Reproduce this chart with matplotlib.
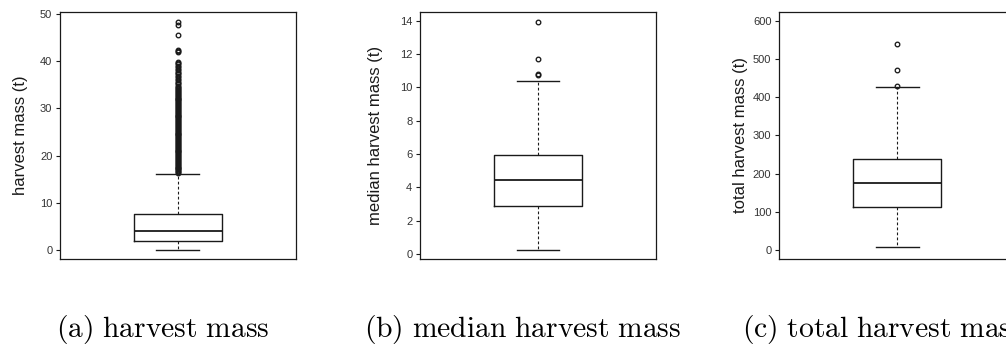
import matplotlib
matplotlib.use('Agg')
import matplotlib.pyplot as plt

plt.rcParams['font.family'] = ['Liberation Sans', 'DejaVu Sans']
plt.rcParams['mathtext.fontset'] = 'cm'

# box statistics per variable (tonnes)
mass_box = [1.9, 4.15, 7.6]          # q1, median, q3
mass_whiskers = [0.0, 16.2]
mass_fliers = [16.3, 16.5, 16.7, 16.9, 17.1, 17.3, 17.5, 17.7, 17.9, 18.1,
               18.3, 18.5, 18.7, 18.9, 19.1, 19.3, 19.5, 19.7, 19.9, 20.1,
               20.3, 20.5, 20.7, 20.9, 21.1, 21.3, 21.5, 21.7, 21.9, 22.1,
               22.3, 22.5, 22.7, 22.9, 23.1, 23.3, 23.5, 23.7, 23.9, 24.1,
               24.3, 24.5, 24.7, 24.9, 25.1, 25.3, 25.5, 25.7, 25.9, 26.1,
               26.3, 26.5, 26.7, 26.9, 27.1, 27.3, 27.5, 27.7, 27.9, 28.1,
               28.3, 28.5, 28.7, 28.9, 29.1, 29.3, 29.5, 29.7, 29.9, 30.1,
               30.3, 30.5, 30.7, 30.9, 31.1, 31.3, 31.5, 31.7, 31.9, 32.1,
               32.3, 32.5, 32.7, 32.9, 33.1, 33.3, 33.5, 33.7, 33.9, 34.1,
               34.3, 34.5, 34.8, 35.1, 35.4, 35.7, 36.0, 36.3, 36.6, 36.9,
               37.2, 37.5, 37.8, 38.1, 38.4, 38.7, 39.0, 39.3, 39.6, 39.9,
               42.0, 42.2, 42.4, 45.5, 47.6, 48.3]

median_box = [2.9, 4.44, 5.94]
median_whiskers = [0.22, 10.4]
median_fliers = [10.75, 10.8, 11.7, 13.9]

total_box = [113, 176, 239]
total_whiskers = [9.5, 428]
total_fliers = [430, 470, 540]

ylabels = ['harvest mass (t)', 'median harvest mass (t)', 'total harvest mass (t)']
captions = ['(a) harvest mass', '(b) median harvest mass', '(c) total harvest mass']
yticks = [range(0, 51, 10), range(0, 15, 2), range(0, 601, 100)]
ylims = [(-1.84, 50.4), (-0.3, 14.52), (-22.7, 622.7)]

panels = [(mass_box, mass_whiskers, mass_fliers),
          (median_box, median_whiskers, median_fliers),
          (total_box, total_whiskers, total_fliers)]

axes_left = [0.0596, 0.4175, 0.7744]
label_x = [-0.136, -0.157, -0.131]
caption_x = [56, 364, 742]

fig = plt.figure(figsize=(10.06, 3.45), dpi=100)

line_col = '#1a1a1a'
for i, (box, whis, fliers) in enumerate(panels):
    ax = fig.add_axes([axes_left[i], 0.2493, 0.2346, 0.7159])
    stats = [dict(q1=box[0], med=box[1], q3=box[2],
                  whislo=whis[0], whishi=whis[1], fliers=fliers)]
    ax.bxp(stats, positions=[1], widths=0.373, capwidths=0.182,
           boxprops=dict(color=line_col, linewidth=1.0),
           whiskerprops=dict(color=line_col, linewidth=0.8, linestyle=(0, (2.5, 2))),
           capprops=dict(color=line_col, linewidth=1.0),
           medianprops=dict(color=line_col, linewidth=1.3),
           flierprops=dict(marker='o', markerfacecolor='none',
                           markeredgecolor=line_col, markersize=3.3,
                           markeredgewidth=0.95))
    ax.set_xlim(0.5, 1.5)
    ax.set_ylim(*ylims[i])
    ax.set_xticks([])
    ax.set_yticks(list(yticks[i]))
    ax.tick_params(axis='y', length=3, width=0.8, pad=2.5,
                   labelsize=8, colors=line_col, labelcolor='#333333')
    for sp in ax.spines.values():
        sp.set_color(line_col)
        sp.set_linewidth(0.9)
    ax.set_ylabel(ylabels[i], fontsize=12, color=line_col)
    ax.yaxis.set_label_coords(label_x[i], 0.5)

    words = captions[i].replace(' ', r'\ ')
    fig.text(caption_x[i] / 1006, 0.024, r'$\mathrm{' + words + '}$',
             fontsize=21.3, ha='left', va='baseline')

fig.savefig('out.png', dpi=100)
